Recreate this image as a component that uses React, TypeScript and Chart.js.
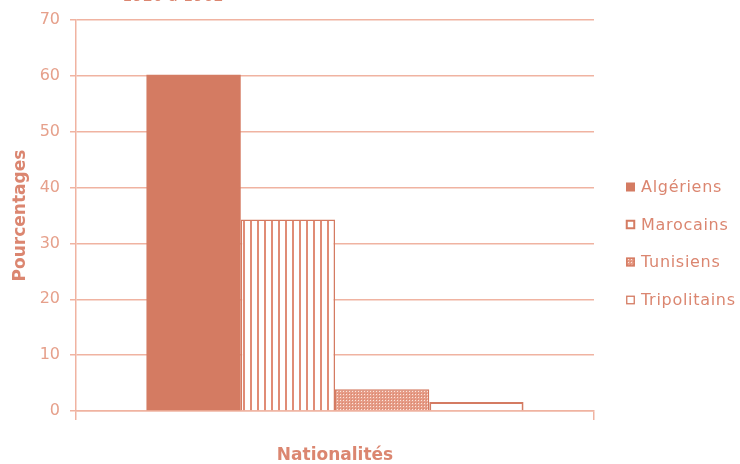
import React, { useEffect, useRef } from "react";
import { Chart, registerables } from "chart.js";

Chart.register(...registerables);

const categories = [""];
const seriesNames = ["Algériens", "Marocains", "Tunisiens", "Tripolitains"];
const seriesValues = [60.2, 34.3, 3.9, 1.6];
const yMin = 0;
const yMax = 70;
const yStep = 10;
const xTitle = "Nationalités";
const yTitle = "Pourcentages";
const topTitle = "1920 à 1962";

const SALMON = "#D47B62";
const GRID = "#F0B3A1";
const TICK_TEXT = "#E6A08B";
const TITLE_TEXT = "#DB8670";
const FONT = "'DejaVu Sans', sans-serif";

function stripePattern(): CanvasPattern | string {
  const c = document.createElement("canvas");
  c.width = 7;
  c.height = 4;
  const g = c.getContext("2d");
  if (!g) return "#fff";
  g.fillStyle = "#ffffff";
  g.fillRect(0, 0, 7, 4);
  g.fillStyle = "#E08C76";
  g.fillRect(5, 0, 2, 4);
  return g.createPattern(c, "repeat") || "#fff";
}

function dotPattern(): CanvasPattern | string {
  const c = document.createElement("canvas");
  c.width = 3;
  c.height = 3;
  const g = c.getContext("2d");
  if (!g) return "#eaa";
  g.fillStyle = "#E69C87";
  g.fillRect(0, 0, 3, 3);
  g.fillStyle = "#FBE6DF";
  g.fillRect(1, 1, 1, 1);
  g.fillStyle = "#DA876F";
  g.fillRect(0, 0, 1, 1);
  return g.createPattern(c, "repeat") || "#eaa";
}

export default function App() {
  const ref = useRef<HTMLCanvasElement | null>(null);

  useEffect(() => {
    if (!ref.current) return;
    const stripes = stripePattern();
    const dots = dotPattern();
    const fills: any[] = [SALMON, stripes, dots, "#ffffff"];
    const borders = [0, 1.5, 1.5, 2];

    const overlay = {
      id: "overlay",
      afterDraw(chart: any) {
        const ctx = chart.ctx;
        ctx.save();
        // clipped top title
        ctx.fillStyle = TITLE_TEXT;
        ctx.font = `16px ${FONT}`;
        ctx.textAlign = "center";
        ctx.textBaseline = "alphabetic";
        ctx.fillText(topTitle, 173, 1);
        // legend
        const x0 = 626;
        const ys = [187, 224.5, 262, 300];
        ctx.textAlign = "left";
        ctx.textBaseline = "middle";
        ctx.font = `16px ${FONT}`;
        try {
          (ctx as any).letterSpacing = "0.7px";
        } catch (e) {}
        seriesNames.forEach((name, i) => {
          const y = ys[i];
          ctx.fillStyle = i === 1 ? "#ffffff" : fills[i];
          ctx.fillRect(x0, y - 4.5, 9, 9);
          if (i > 0) {
            ctx.strokeStyle = SALMON;
            ctx.lineWidth = i === 1 ? 2 : 1.3;
            ctx.strokeRect(x0 + 0.75, y - 3.75, 7.5, 7.5);
          }
          ctx.fillStyle = TITLE_TEXT;
          ctx.fillText(name, 641, y + 1);
        });
        ctx.restore();
      },
    };

    const chart = new Chart(ref.current, {
      type: "bar",
      data: {
        labels: categories,
        datasets: seriesNames.map((name, i) => ({
          label: name,
          data: [seriesValues[i]],
          backgroundColor: fills[i],
          borderColor: SALMON,
          borderWidth: borders[i],
          categoryPercentage: 0.728,
          barPercentage: 1.0,
        })),
      },
      options: {
        responsive: false,
        animation: false,
        devicePixelRatio: 1,
        layout: { padding: { left: 0, right: 146, top: 20, bottom: 0 } },
        plugins: {
          legend: { display: false },
          tooltip: { enabled: false },
          title: { display: false },
        },
        scales: {
          x: {
            offset: true,
            grid: {
              display: true,
              offset: true,
              drawOnChartArea: false,
              drawTicks: true,
              tickLength: 9,
              color: GRID,
              lineWidth: 1.5,
            },
            border: { display: true, color: GRID, width: 1.5 },
            ticks: { display: true, color: TICK_TEXT, font: { family: FONT, size: 14 } },
            title: {
              display: true,
              text: xTitle,
              color: TITLE_TEXT,
              font: { family: FONT, size: 17, weight: "bold", lineHeight: 1.0 },
              padding: { top: 0, bottom: 0 },
            },
            afterFit(scale: any) {
              scale.height = 53;
            },
          },
          y: {
            min: yMin,
            max: yMax,
            ticks: {
              stepSize: yStep,
              color: TICK_TEXT,
              font: { family: FONT, size: 16 },
              padding: 10,
            },
            grid: {
              color: GRID,
              lineWidth: 1.5,
              tickLength: 6,
              drawTicks: true,
            },
            border: { display: true, color: GRID, width: 1.5 },
            title: {
              display: true,
              text: yTitle,
              color: TITLE_TEXT,
              font: { family: FONT, size: 17, weight: "bold" },
              padding: { top: 10, bottom: 0 },
            },
            afterFit(scale: any) {
              scale.width = 76;
            },
          },
        },
      },
      plugins: [overlay],
    } as any);

    return () => chart.destroy();
  }, []);

  return (
    <div style={{ position: "absolute", left: 0, top: 0, width: 740, height: 464, background: "#fff" }}>
      <canvas ref={ref} width={740} height={464} />
    </div>
  );
}
